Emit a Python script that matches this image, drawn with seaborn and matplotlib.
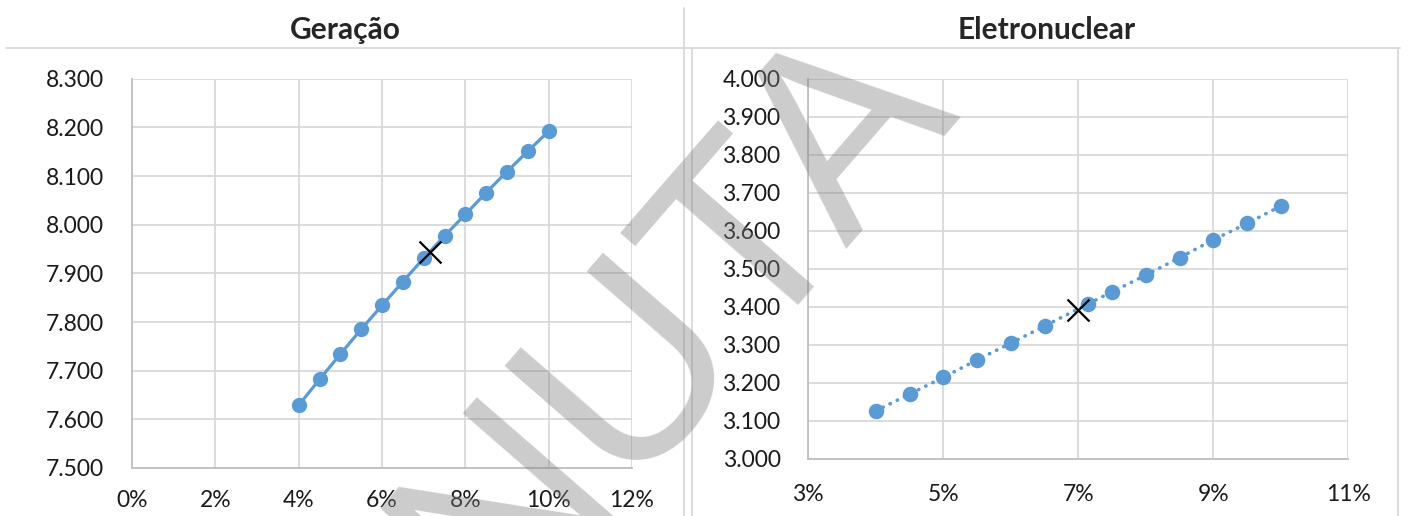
import matplotlib
matplotlib.use("Agg")
import matplotlib.pyplot as plt
from matplotlib.lines import Line2D
from matplotlib.ticker import FuncFormatter, MultipleLocator
import seaborn as sns

# ===============================
# Data
# ===============================
geracao_x = [4.0, 4.5, 5.0, 5.5, 6.0, 6.5, 7.0, 7.5, 8.0, 8.5, 9.0, 9.5, 10.0]
geracao_y = [7629, 7682, 7734, 7785, 7834, 7883, 7931, 7977, 8021, 8066, 8109, 8151, 8192]
geracao_ref_x = [7.16]
geracao_ref_y = [7944]
geracao_xticks = [0, 2, 4, 6, 8, 10, 12]

eletro_x = [4.0, 4.5, 5.0, 5.5, 6.0, 6.5, 7.15, 7.5, 8.0, 8.5, 9.0, 9.5, 10.0]
eletro_y = [3126, 3170, 3214, 3260, 3304, 3349, 3408, 3439, 3483, 3529, 3576, 3619, 3665]
eletro_ref_x = [7.0]
eletro_ref_y = [3391]
eletro_xticks = [3, 5, 7, 9, 11]

titles = ["Geração", "Eletronuclear"]

# ===============================
# Style
# ===============================
sns.set_style("white")
plt.rcParams['font.family'] = ['Lato', 'DejaVu Sans']

blue = '#5B9BD5'
grid_c = '#d9d9d9'
axis_c = '#bfbfbf'

fig = plt.figure(figsize=(14.08, 5.16), dpi=100)
W, H = 1408, 516

ax1 = fig.add_axes([132 / W, (H - 468) / H, 500 / W, (468 - 78.7) / H])
ax2 = fig.add_axes([808.3 / W, (H - 458.7) / H, 540 / W, 380 / H])

thousands = FuncFormatter(lambda v, p: f"{v:,.0f}".replace(',', '.'))
percent = FuncFormatter(lambda v, p: f"{v:.0f}%")

# Geração: solid line
sns.lineplot(x=geracao_x, y=geracao_y, ax=ax1, color=blue, linewidth=2.3,
             marker='o', markersize=11, markeredgewidth=0, sort=False, zorder=3)
sns.scatterplot(x=geracao_ref_x, y=geracao_ref_y, ax=ax1, marker='x', s=250,
                color='black', linewidth=1.6, zorder=5)
ax1.set_xlim(0, 12)
ax1.set_ylim(7500, 8300)
ax1.set_xticks(geracao_xticks)

# Eletronuclear: dotted line
sns.lineplot(x=eletro_x, y=eletro_y, ax=ax2, color=blue, linewidth=2.6,
             linestyle=(0, (0.1, 2.1)), dash_capstyle='round', sort=False, zorder=3)
sns.scatterplot(x=eletro_x, y=eletro_y, ax=ax2, color=blue, s=125,
                linewidth=0, zorder=4)
sns.scatterplot(x=eletro_ref_x, y=eletro_ref_y, ax=ax2, marker='x', s=250,
                color='black', linewidth=1.6, zorder=5)
ax2.set_xlim(3, 11)
ax2.set_ylim(3000, 4000)
ax2.set_xticks(eletro_xticks)

for ax, xpad in [(ax1, 16), (ax2, 18)]:
    ax.yaxis.set_major_locator(MultipleLocator(100))
    ax.yaxis.set_major_formatter(thousands)
    ax.xaxis.set_major_formatter(percent)
    ax.grid(True, color=grid_c, linewidth=1.3, zorder=0)
    ax.set_axisbelow(True)
    for side in ['top', 'right']:
        ax.spines[side].set_visible(False)
    for side in ['left', 'bottom']:
        ax.spines[side].set_color(axis_c)
        ax.spines[side].set_linewidth(1.3)
    ax.tick_params(axis='y', length=0, pad=20, labelsize=16.5, labelcolor='#1a1a1a')
    ax.tick_params(axis='x', length=0, pad=xpad, labelsize=16.5, labelcolor='#1a1a1a')
    ax.set_xlabel('')
    ax.set_ylabel('')

# Titles
fig.text(345 / W, 1 - 30 / H, titles[0], ha='center', va='center',
         fontsize=21.5, fontweight='bold')
fig.text(1047 / W, 1 - 30 / H, titles[1], ha='center', va='center',
         fontsize=21.5, fontweight='bold')

# Panel borders
def px_line(x0, y0, x1, y1):
    fig.add_artist(Line2D([x0 / W, x1 / W], [1 - y0 / H, 1 - y1 / H],
                          transform=fig.transFigure, color=grid_c, linewidth=1.3))

px_line(6, 48, 1400, 48)
px_line(684, 8, 684, 516)
px_line(692, 48, 692, 516)
px_line(1398, 48, 1398, 516)

# Watermark
fig.text(955 / W, 1 - 100 / H, 'MINUTA', rotation=49, rotation_mode='anchor',
         ha='right', va='baseline', fontsize=190, color='gray', alpha=0.4,
         family='Liberation Sans', zorder=10)

fig.savefig('out.png', dpi=100)
